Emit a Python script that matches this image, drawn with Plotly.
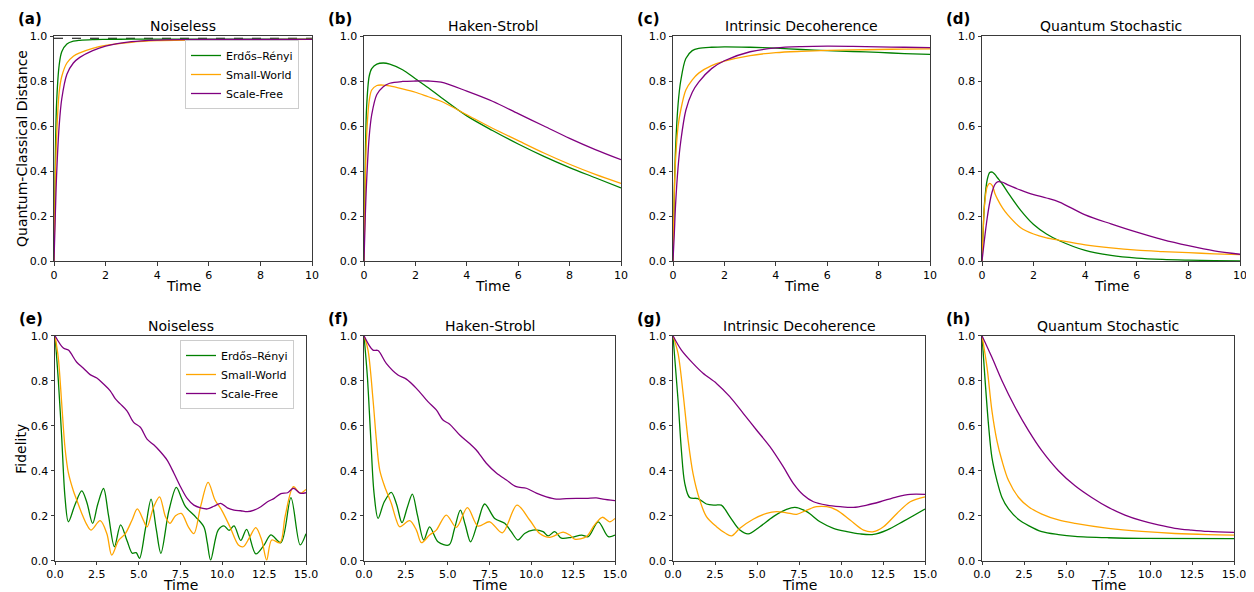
import plotly.graph_objects as go

# ---------------- data ----------------
series_names = ["Erdős–Rényi", "Small-World", "Scale-Free"]
series_colors = ["#008000", "#FFA500", "#800080"]
panel_titles = ["Noiseless", "Haken-Strobl", "Intrinsic Decoherence", "Quantum Stochastic"]
panel_labels_top = ["(a)", "(b)", "(c)", "(d)"]
panel_labels_bot = ["(e)", "(f)", "(g)", "(h)"]
row_ylabels = ["Quantum-Classical Distance", "Fidelity"]
x_label = "Time"
top_xticks = [0, 2, 4, 6, 8, 10]
bot_xticks = [0, 2.5, 5, 7.5, 10, 12.5, 15]
y_ticks = [0, 0.2, 0.4, 0.6, 0.8, 1.0]
qc_limit = 0.99

# (a) Noiseless - quantum-classical distance
a_t = [0, 0.05, 0.1, 0.2, 0.3, 0.5, 0.75, 1, 1.5, 2, 3, 4, 6, 8, 10]
a_er = [0, 0.45, 0.7, 0.87, 0.93, 0.965, 0.977, 0.981, 0.984, 0.985, 0.986, 0.986, 0.986, 0.986, 0.986]
a_sw = [0, 0.35, 0.55, 0.75, 0.82, 0.88, 0.91, 0.925, 0.945, 0.958, 0.972, 0.979, 0.983, 0.984, 0.985]
a_sf = [0, 0.2, 0.38, 0.6, 0.72, 0.83, 0.88, 0.905, 0.935, 0.955, 0.975, 0.982, 0.985, 0.985, 0.985]

# (b) Haken-Strobl
b_t = [0, 0.05, 0.1, 0.2, 0.3, 0.5, 0.75, 1, 1.5, 2, 2.5, 3, 4, 5, 6, 7, 8, 9, 10]
b_er = [0, 0.45, 0.68, 0.82, 0.855, 0.875, 0.88, 0.875, 0.85, 0.81, 0.77, 0.727, 0.645, 0.58, 0.52, 0.465, 0.415, 0.37, 0.325]
b_sw = [0, 0.35, 0.55, 0.71, 0.76, 0.78, 0.782, 0.778, 0.765, 0.75, 0.73, 0.71, 0.65, 0.59, 0.535, 0.48, 0.43, 0.385, 0.345]
b_sf = [0, 0.2, 0.35, 0.55, 0.65, 0.74, 0.775, 0.79, 0.798, 0.8, 0.8, 0.795, 0.755, 0.71, 0.655, 0.6, 0.545, 0.495, 0.45]

# (c) Intrinsic Decoherence
c_t = [0, 0.05, 0.1, 0.2, 0.3, 0.5, 0.75, 1, 1.5, 2, 3, 4, 5, 6, 7, 8, 9, 10]
c_er = [0, 0.3, 0.5, 0.7, 0.8, 0.9, 0.935, 0.945, 0.95, 0.952, 0.95, 0.946, 0.94, 0.935, 0.931, 0.927, 0.922, 0.918]
c_sw = [0, 0.3, 0.45, 0.6, 0.67, 0.76, 0.805, 0.835, 0.868, 0.888, 0.913, 0.926, 0.932, 0.936, 0.938, 0.94, 0.942, 0.943]
c_sf = [0, 0.12, 0.25, 0.42, 0.53, 0.67, 0.75, 0.795, 0.855, 0.89, 0.93, 0.947, 0.953, 0.955, 0.954, 0.952, 0.95, 0.948]

# (d) Quantum Stochastic
d_t = [0, 0.05, 0.1, 0.2, 0.3, 0.4, 0.5, 0.6, 0.8, 1, 1.5, 2, 2.5, 3, 4, 5, 6, 7, 8, 9, 10]
d_er = [0, 0.15, 0.26, 0.36, 0.393, 0.395, 0.385, 0.37, 0.34, 0.305, 0.225, 0.162, 0.12, 0.09, 0.047, 0.025, 0.013, 0.007, 0.004, 0.002, 0.001]
d_sw = [0, 0.15, 0.25, 0.33, 0.345, 0.335, 0.3, 0.275, 0.235, 0.205, 0.148, 0.12, 0.103, 0.092, 0.072, 0.058, 0.048, 0.042, 0.037, 0.032, 0.028]
d_sf = [0, 0.05, 0.1, 0.19, 0.26, 0.31, 0.34, 0.352, 0.35, 0.338, 0.315, 0.295, 0.28, 0.262, 0.205, 0.165, 0.128, 0.095, 0.068, 0.045, 0.03]

# (e) Noiseless - fidelity
e_er_t = [0, 0.2, 0.4, 0.6, 0.8, 1.2, 1.6, 1.9, 2.25, 2.55, 2.9, 3.2, 3.55, 3.92, 4.3, 4.62, 4.85, 5.05, 5.4,
          5.74, 6.05, 6.33, 6.8, 7.25, 7.55, 7.8, 8.4, 8.9, 9.1, 9.3, 9.75, 10.1, 10.4, 10.7, 11.1, 11.45,
          12.0, 12.5, 12.9, 13.5, 14.1, 14.65, 15]
e_er = [1.0, 0.8, 0.55, 0.28, 0.173, 0.25, 0.31, 0.26, 0.166, 0.25, 0.321, 0.2, 0.062, 0.159, 0.09, 0.033,
        0.036, 0.01, 0.14, 0.274, 0.14, 0.033, 0.22, 0.326, 0.28, 0.24, 0.195, 0.15, 0.08, 0.003, 0.136,
        0.155, 0.135, 0.155, 0.09, 0.139, 0.03, 0.07, 0.115, 0.08, 0.28, 0.07, 0.12]
e_sw_t = [0, 0.2, 0.4, 0.6, 0.8, 1.1, 1.3, 1.6, 1.9, 2.15, 2.7, 3.1, 3.39, 3.8, 4.2, 4.6, 4.92, 5.28, 5.5,
          5.9, 6.25, 6.6, 6.87, 7.2, 7.55, 7.97, 8.3, 8.7, 9.15, 9.56, 9.96, 10.46, 10.96, 11.25, 11.6, 12.0,
          12.35, 12.65, 12.95, 13.45, 13.75, 14.25, 14.64, 15]
e_sw = [1.0, 0.9, 0.7, 0.5, 0.39, 0.31, 0.27, 0.21, 0.16, 0.136, 0.178, 0.12, 0.025, 0.09, 0.12, 0.18, 0.23,
        0.18, 0.15, 0.24, 0.284, 0.196, 0.166, 0.2, 0.21, 0.15, 0.12, 0.24, 0.348, 0.27, 0.225, 0.15, 0.07,
        0.062, 0.1, 0.147, 0.092, 0.003, 0.092, 0.08, 0.196, 0.329, 0.3, 0.317]
e_sf_t = [0, 0.5, 0.8, 1.3, 1.7, 2.1, 2.5, 2.9, 3.3, 3.6, 3.9, 4.3, 4.7, 5.1, 5.5, 5.9, 6.3, 6.7, 7.1, 7.5,
          7.9, 8.3, 8.7, 9.1, 9.5, 9.9, 10.3, 10.7, 11.1, 11.5, 11.9, 12.3, 12.7, 13.1, 13.5, 13.9, 14.25,
          14.65, 15]
e_sf = [1.0, 0.945, 0.936, 0.882, 0.855, 0.827, 0.812, 0.785, 0.755, 0.72, 0.697, 0.666, 0.615, 0.593,
        0.54, 0.515, 0.484, 0.447, 0.39, 0.329, 0.277, 0.247, 0.235, 0.23, 0.242, 0.255, 0.235, 0.225,
        0.222, 0.218, 0.225, 0.24, 0.262, 0.277, 0.298, 0.302, 0.322, 0.3, 0.302]

# (f) Haken-Strobl - fidelity
f_er_t = [0, 0.2, 0.4, 0.6, 0.84, 1.2, 1.63, 1.95, 2.27, 2.6, 2.89, 3.2, 3.57, 3.92, 4.42, 5.08, 5.4, 5.76,
          6.05, 6.37, 6.8, 7.21, 7.81, 8.41, 8.8, 9.2, 9.6, 10.1, 10.7, 11.0, 11.4, 11.8, 12.4, 13.0, 13.4,
          14.0, 14.6, 15]
f_er = [1.0, 0.82, 0.55, 0.3, 0.188, 0.26, 0.304, 0.25, 0.169, 0.24, 0.296, 0.2, 0.092, 0.15, 0.084, 0.07,
        0.14, 0.225, 0.16, 0.084, 0.17, 0.252, 0.188, 0.166, 0.129, 0.092, 0.121, 0.136, 0.129, 0.11, 0.129,
        0.1, 0.104, 0.114, 0.107, 0.173, 0.107, 0.114]
f_sw_t = [0, 0.24, 0.54, 0.74, 0.94, 1.24, 1.63, 1.93, 2.13, 2.73, 3.13, 3.43, 3.92, 4.32, 4.92, 5.52, 6.18,
          6.81, 7.51, 8.27, 9.14, 9.9, 10.5, 11.1, 11.9, 12.3, 12.59, 13.29, 13.78, 14.24, 14.68, 15]
f_sw = [1.0, 0.936, 0.714, 0.536, 0.403, 0.329, 0.255, 0.181, 0.151, 0.178, 0.136, 0.08, 0.114, 0.136,
        0.203, 0.148, 0.236, 0.154, 0.173, 0.124, 0.247, 0.181, 0.121, 0.104, 0.127, 0.114, 0.096, 0.107,
        0.159, 0.193, 0.173, 0.188]
f_sf_t = [0, 0.54, 0.84, 1.33, 2.03, 2.53, 3.13, 3.82, 4.32, 4.72, 5.12, 5.72, 6.31, 6.71, 7.31, 7.91, 8.51,
          9.1, 9.7, 10.3, 10.9, 11.49, 12.09, 12.69, 13.29, 13.88, 14.28, 15]
f_sf = [1.0, 0.936, 0.934, 0.877, 0.825, 0.807, 0.766, 0.707, 0.67, 0.625, 0.607, 0.559, 0.521, 0.492,
        0.433, 0.39, 0.359, 0.329, 0.322, 0.3, 0.284, 0.274, 0.276, 0.277, 0.277, 0.279, 0.274, 0.267]

# (g) Intrinsic Decoherence - fidelity
g_er_t = [0, 0.3, 0.5, 0.7, 0.99, 1.49, 1.99, 2.49, 2.88, 3.38, 3.98, 4.48, 5.17, 5.97, 6.76, 7.26, 7.96,
          8.75, 9.55, 10.35, 11.14, 11.94, 12.73, 13.73, 15]
g_er = [1.0, 0.714, 0.49, 0.344, 0.281, 0.276, 0.252, 0.247, 0.247, 0.196, 0.136, 0.119, 0.151, 0.196,
        0.228, 0.237, 0.218, 0.173, 0.144, 0.129, 0.119, 0.117, 0.136, 0.176, 0.23]
g_sw_t = [0, 0.3, 0.6, 0.9, 1.19, 1.59, 1.99, 2.59, 3.08, 3.48, 3.98, 4.77, 5.57, 6.17, 6.76, 7.36, 7.96,
          8.55, 9.15, 9.75, 10.54, 11.34, 11.94, 12.53, 13.33, 14.12, 15]
g_sw = [1.0, 0.921, 0.744, 0.536, 0.388, 0.27, 0.196, 0.151, 0.124, 0.11, 0.144, 0.184, 0.21, 0.218, 0.213,
        0.206, 0.225, 0.24, 0.24, 0.225, 0.181, 0.136, 0.129, 0.151, 0.21, 0.262, 0.284]
g_sf_t = [0, 0.5, 1.19, 1.79, 2.59, 3.38, 4.18, 4.97, 5.77, 6.56, 7.16, 7.76, 8.36, 9.15, 9.95, 10.74,
          11.54, 12.33, 13.33, 14.12, 15]
g_sf = [1.0, 0.936, 0.877, 0.833, 0.788, 0.729, 0.655, 0.581, 0.507, 0.418, 0.344, 0.292, 0.262, 0.247,
        0.24, 0.237, 0.247, 0.262, 0.284, 0.295, 0.295]

# (h) Quantum Stochastic - fidelity
h_er_t = [0, 0.2, 0.4, 0.59, 0.89, 1.19, 1.58, 2.18, 2.77, 3.56, 4.55, 5.54, 7.52, 9.5, 15]
h_er = [1.0, 0.785, 0.593, 0.459, 0.356, 0.281, 0.23, 0.183, 0.156, 0.129, 0.116, 0.108, 0.102, 0.099, 0.098]
h_sw_t = [0, 0.3, 0.59, 0.89, 1.19, 1.58, 2.18, 2.77, 3.56, 4.55, 5.54, 7.52, 9.5, 11.48, 13.46, 15]
h_sw = [1.0, 0.859, 0.667, 0.533, 0.444, 0.356, 0.281, 0.24, 0.207, 0.181, 0.166, 0.144, 0.13, 0.121, 0.116, 0.114]
h_sf_t = [0, 0.59, 1.19, 1.98, 2.77, 3.56, 4.55, 5.54, 6.53, 7.52, 8.51, 9.5, 10.49, 11.48, 12.47, 13.46, 15]
h_sf = [1.0, 0.904, 0.8, 0.681, 0.578, 0.489, 0.4, 0.333, 0.281, 0.237, 0.203, 0.178, 0.159, 0.144, 0.136, 0.13, 0.126]

top_panels = [
    [(a_t, a_er), (a_t, a_sw), (a_t, a_sf)],
    [(b_t, b_er), (b_t, b_sw), (b_t, b_sf)],
    [(c_t, c_er), (c_t, c_sw), (c_t, c_sf)],
    [(d_t, d_er), (d_t, d_sw), (d_t, d_sf)],
]
bot_panels = [
    [(e_er_t, e_er), (e_sw_t, e_sw), (e_sf_t, e_sf)],
    [(f_er_t, f_er), (f_sw_t, f_sw), (f_sf_t, f_sf)],
    [(g_er_t, g_er), (g_sw_t, g_sw), (g_sf_t, g_sf)],
    [(h_er_t, h_er), (h_sw_t, h_sw), (h_sf_t, h_sf)],
]

# ---------------- layout geometry ----------------
# The page body has an 8px margin, so the figure is 8px smaller and every
# window-pixel position below is converted with OFF.
OFF = 8
W, H = 1254 - OFF, 592 - OFF
top_x = [(54, 312), (364, 621), (673, 930), (982, 1240)]
bot_x = [(55, 306), (364, 615), (673, 925), (982, 1234)]
top_y = (36, 261)
bot_y = (335.7, 560.7)
xlabel_y = [286, 585]

def px(x):
    return (x - OFF) / W

def py(y):
    return 1 - (y - OFF) / H

FONT = "DejaVu Sans"
AX = "#3a3a3a"

fig = go.Figure()
layout = dict(
    width=W, height=H, margin=dict(l=0, r=0, t=0, b=0, autoexpand=False),
    paper_bgcolor="white", plot_bgcolor="white",
    font=dict(family=FONT, color="black", size=11),
    showlegend=True, annotations=[],
)

def ax_style(rng, tickvals, ticktext, dom, anchor):
    return dict(domain=dom, anchor=anchor, range=rng, showgrid=False, zeroline=False,
                showline=True, mirror=True, linecolor=AX, linewidth=1, automargin=False,
                ticks="outside", ticklen=3.5, tickwidth=1, tickcolor=AX,
                tickvals=tickvals, ticktext=ticktext, fixedrange=True,
                tickfont=dict(family=FONT, size=11, color="black"))

def text_ann(text, x, y, size, angle=0, xanchor="center"):
    return dict(text=text, xref="paper", yref="paper", x=x, y=y, xanchor=xanchor,
                yanchor="middle", showarrow=False, textangle=angle,
                font=dict(family=FONT, size=size, color="black"))

idx = 0
for row in range(2):
    panels = top_panels if row == 0 else bot_panels
    xs = top_x if row == 0 else bot_x
    ypix = top_y if row == 0 else bot_y
    xt = top_xticks if row == 0 else bot_xticks
    xtext = [str(v) for v in top_xticks] if row == 0 else ["%.1f" % v for v in bot_xticks]
    xr = [0, 10] if row == 0 else [0, 15]
    labels = panel_labels_top if row == 0 else panel_labels_bot
    for col in range(4):
        idx += 1
        sfx = "" if idx == 1 else str(idx)
        xa, ya = "x" + sfx, "y" + sfx
        xd = [px(xs[col][0]), px(xs[col][1])]
        yd = [py(ypix[1]), py(ypix[0])]
        layout["xaxis" + sfx] = ax_style(xr, xt, xtext, xd, ya)
        layout["yaxis" + sfx] = ax_style([0, 1], y_ticks, ["%.1f" % v for v in y_ticks], yd, xa)
        if row == 0 and col == 0:
            fig.add_trace(go.Scatter(x=[0, 10], y=[qc_limit, qc_limit], mode="lines",
                                     line=dict(color="black", width=1, dash="dash"),
                                     showlegend=False, xaxis=xa, yaxis=ya, hoverinfo="skip"))
        for s, (tt, vv) in enumerate(panels[col]):
            fig.add_trace(go.Scatter(
                x=tt, y=vv, mode="lines", name=series_names[s],
                line=dict(color=series_colors[s], width=1.3, shape="spline", smoothing=0.9),
                showlegend=(col == 0), legend="legend" if row == 0 else "legend2",
                xaxis=xa, yaxis=ya))
        cx = (xd[0] + xd[1]) / 2
        layout["annotations"].append(text_ann(panel_titles[col], cx, py(ypix[0] - 10), 14))
        layout["annotations"].append(text_ann(x_label, cx, py(xlabel_y[row]), 14))
        layout["annotations"].append(text_ann("<b>" + labels[col] + "</b>", px(xs[col][0] - 38),
                                              py(ypix[0] - 17), 15, xanchor="left"))
    layout["annotations"].append(text_ann(row_ylabels[row], px(21.5), py((ypix[0] + ypix[1]) / 2), 14, angle=-90))

leg_common = dict(bgcolor="rgba(255,255,255,0.85)", bordercolor="#cccccc", borderwidth=1,
                  font=dict(family=FONT, size=11, color="black"), xanchor="right", yanchor="top",
                  itemwidth=30, tracegroupgap=0)
layout["legend"] = dict(leg_common, x=px(299), y=py(40))
layout["legend2"] = dict(leg_common, x=px(294), y=py(340))

fig.update_layout(**layout)
fig.write_html("out.html")
